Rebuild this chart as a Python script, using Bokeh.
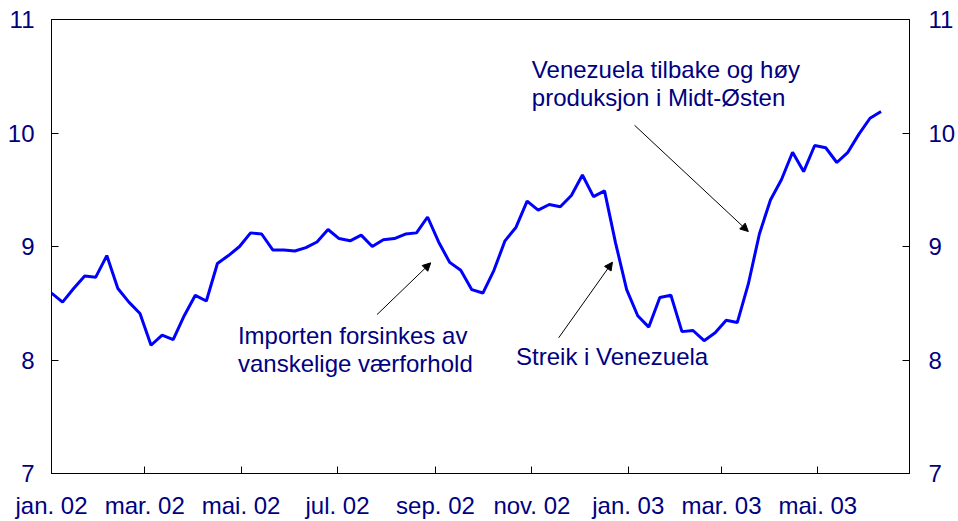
import pandas as pd
from bokeh.plotting import figure
from bokeh.models import Range1d, LinearAxis, FixedTicker, Label, Arrow, NormalHead
from bokeh.embed import file_html
from bokeh.resources import INLINE

# ---- data (weekly) ----
start_date = "2002-01-01"
price = [8.59, 8.51, 8.63, 8.74, 8.73, 8.92, 8.63, 8.51, 8.41, 8.13,
         8.22, 8.18, 8.39, 8.57, 8.52, 8.85, 8.92, 9.00, 9.12, 9.11,
         8.97, 8.97, 8.96, 8.99, 9.04, 9.15, 9.07, 9.05, 9.10, 9.00,
         9.06, 9.07, 9.11, 9.12, 9.26, 9.04, 8.86, 8.79, 8.62, 8.59,
         8.79, 9.05, 9.17, 9.40, 9.32, 9.37, 9.35, 9.45, 9.63, 9.44,
         9.49, 9.03, 8.62, 8.39, 8.29, 8.55, 8.57, 8.25, 8.26, 8.17,
         8.24, 8.35, 8.33, 8.67, 9.11, 9.41, 9.59, 9.83, 9.66, 9.89,
         9.87, 9.74, 9.83, 9.99, 10.13, 10.19]

tick_dates = ["2002-01-01", "2002-03-01", "2002-05-01", "2002-07-01", "2002-09-01",
              "2002-11-01", "2003-01-01", "2003-03-01", "2003-05-01"]
tick_labels = ["jan. 02", "mar. 02", "mai. 02", "jul. 02", "sep. 02",
               "nov. 02", "jan. 03", "mar. 03", "mai. 03"]
y_ticks = [7, 8, 9, 10, 11]
x_end_date = "2003-06-28"

# annotations: text lines with (date, value) anchors; arrows start/end
ann_texts = ["Importen forsinkes av", "vanskelige værforhold", "Streik i Venezuela",
             "Venezuela tilbake og høy", "produksjon i Midt-Østen"]
ann_dates = ["2002-04-29", "2002-04-29", "2002-10-22", "2002-11-01", "2002-11-01"]
ann_values = [8.215, 7.973, 8.035, 10.556, 10.312]

arrow_start_dates = ["2002-07-26", "2002-11-18", "2003-01-05"]
arrow_start_values = [8.40, 8.196, 10.068]
arrow_end_dates = ["2002-08-29", "2002-12-22", "2003-03-18"]
arrow_end_values = [8.856, 8.862, 9.132]


def ms(d):
    return float(pd.Timestamp(d).value // 1_000_000)


dates = pd.date_range(start_date, periods=len(price), freq="7D")
x = [ms(d) for d in dates]

FONT = "Liberation Sans"
TXT = "#000080"

p = figure(width=958, height=521, output_backend="svg", toolbar_location=None,
           x_range=Range1d(ms(start_date), ms(x_end_date)), y_range=Range1d(7, 11),
           min_border_left=51, min_border_right=49, min_border_top=19, min_border_bottom=48)
p.background_fill_color = "white"
p.border_fill_color = "white"
p.outline_line_color = "black"
p.outline_line_width = 1
p.grid.visible = False

p.line(x, price, line_color="#0000FF", line_width=3)

# x axis
xa = p.xaxis[0]
xa.ticker = FixedTicker(ticks=[ms(d) for d in tick_dates])
xa.major_label_overrides = {ms(d): lab for d, lab in zip(tick_dates, tick_labels)}
xa.minor_tick_line_color = None
xa.major_tick_in = 7
xa.major_tick_out = 0
xa.major_label_standoff = 18
xa.major_label_text_font = FONT
xa.major_label_text_font_size = "24px"
xa.major_label_text_color = TXT
xa.axis_line_color = "black"
xa.major_tick_line_color = "black"

# y axes
ya = p.yaxis[0]
ya.ticker = FixedTicker(ticks=y_ticks)
ra = LinearAxis(ticker=FixedTicker(ticks=y_ticks))
p.add_layout(ra, "right")
for ax in (ya, ra):
    ax.minor_tick_line_color = None
    ax.major_tick_in = 7
    ax.major_tick_out = 0
    ax.major_label_text_font = FONT
    ax.major_label_text_font_size = "24px"
    ax.major_label_text_color = TXT
    ax.axis_line_color = "black"
    ax.major_tick_line_color = "black"
ya.major_label_standoff = 17
ra.major_label_standoff = 19

for t, d, v in zip(ann_texts, ann_dates, ann_values):
    p.add_layout(Label(x=ms(d), y=v, text=t, text_font=FONT, text_font_size="24px",
                       text_color=TXT, text_align="left", text_baseline="alphabetic"))

for sd, sv, ed, ev in zip(arrow_start_dates, arrow_start_values, arrow_end_dates, arrow_end_values):
    p.add_layout(Arrow(end=NormalHead(size=8, fill_color="black", line_color="black", line_width=1),
                       x_start=ms(sd), y_start=sv, x_end=ms(ed), y_end=ev,
                       line_color="black", line_width=1))

open("out.html", "w").write(file_html(p, INLINE))
